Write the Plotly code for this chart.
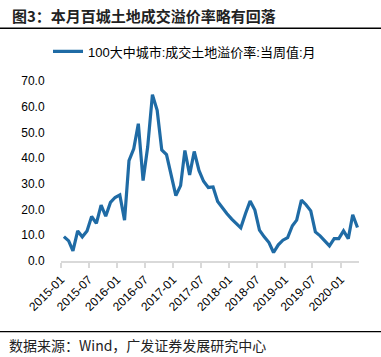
import pandas as pd
import plotly.graph_objects as go

months = pd.date_range("2015-01-01", periods=64, freq="MS")
dates = months + pd.Timedelta(days=19)

values = [
    9.5, 7.8, 3.9, 11.7, 9.4, 11.7, 17.3, 14.6, 21.7, 17.4, 22.8, 24.7,
    25.7, 15.9, 39.0, 43.6, 53.4, 31.3, 44.3, 64.7, 58.6, 43.2, 41.4, 33.2,
    25.4, 29.3, 43.0, 33.5, 42.6, 35.2, 31.0, 28.6, 28.8, 23.1, 20.5, 18.4,
    16.3, 14.3, 12.9, 18.5, 23.3, 19.8, 12.0, 9.4, 7.2, 3.3, 6.3, 8.1,
    9.1, 13.7, 15.9, 23.7, 21.9, 19.5, 11.3, 9.8, 7.8, 5.9, 8.7, 8.7,
    11.7, 8.7, 18.0, 13.0,
]
series_name = "100大中城市:成交土地溢价率:当周值:月"
title_text = "图3：本月百城土地成交溢价率略有回落"
source_text = "数据来源：Wind，广发证券发展研究中心"
tick_vals = pd.date_range("2015-01-01", "2020-01-01", freq="6MS")
tick_text = [d.strftime("%Y-%m") for d in tick_vals]

fig = go.Figure()
fig.add_trace(go.Scatter(
    x=dates, y=values, mode="lines", name=series_name,
    line=dict(color="#1F6BA5", width=3.2),
))

fig.update_layout(
    width=381, height=357,
    margin=dict(l=61, r=22, t=81, b=96, autoexpand=False),
    paper_bgcolor="white", plot_bgcolor="white",
    font=dict(family="Liberation Sans, Noto Sans CJK SC", color="#000000"),
    showlegend=True,
    legend=dict(
        orientation="h", x=0.126, xref="container", y=1 - 51.5 / 357, yref="container",
        xanchor="left", yanchor="middle",
        font=dict(size=13, family="Liberation Sans, Noto Sans CJK SC", color="#000"),
        bgcolor="rgba(0,0,0,0)",
    ),
    xaxis=dict(
        type="date", range=["2015-01-01", "2020-04-30"], automargin=False,
        tickvals=tick_vals, ticktext=tick_text, tickangle=-45,
        showline=True, linecolor="#d9d9d9", linewidth=2,
        ticks="outside", ticklen=5, tickwidth=2, tickcolor="#d9d9d9",
        showgrid=False, zeroline=False,
        tickfont=dict(size=12, color="#000"),
    ),
    yaxis=dict(
        range=[0, 70], dtick=10, tickformat=".1f", automargin=False,
        showline=False, showgrid=False, zeroline=False,
        ticks="outside", ticklen=13, tickcolor="rgba(0,0,0,0)",
        tickfont=dict(size=12, color="#000"),
    ),
    shapes=[
        dict(type="line", xref="paper", yref="paper", x0=-61 / 298, x1=320 / 298,
             y0=1 + (81 - 28.3) / 180, y1=1 + (81 - 28.3) / 180,
             line=dict(color="#000", width=1.5)),
        dict(type="line", xref="paper", yref="paper", x0=-61 / 298, x1=320 / 298,
             y0=-(331.7 - 261) / 180, y1=-(331.7 - 261) / 180,
             line=dict(color="#000", width=1.2)),
    ],
    annotations=[
        dict(text="<b>" + title_text + "</b>", xref="paper", yref="paper",
             x=-51 / 298, y=1 + (81 - 15) / 180, xanchor="left", yanchor="middle",
             showarrow=False, font=dict(size=15, color="#222", family="Noto Sans CJK SC")),
        dict(text=source_text, xref="paper", yref="paper",
             x=-54 / 298, y=-(345 - 261) / 180, xanchor="left", yanchor="middle",
             showarrow=False, font=dict(size=14, color="#222", family="Noto Sans CJK SC")),
    ],
)

fig.write_html("out.html", config={"displayModeBar": False},
               post_script="document.body.style.margin='0';")
